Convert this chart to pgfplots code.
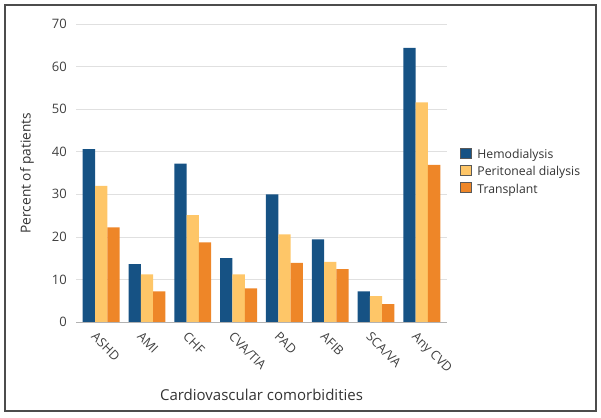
\documentclass[border=0pt]{standalone}
\usepackage{pgfplots}
\pgfplotsset{compat=1.18}
\usepackage{fontspec}
\setmainfont{Open Sans}
\definecolor{hemo}{RGB}{22,82,132}
\definecolor{perit}{RGB}{254,198,104}
\definecolor{trans}{RGB}{238,134,40}
\begin{document}
\begin{tikzpicture}[x=1pt,y=1pt]
\path[use as bounding box] (0,0) rectangle (601,417);
\draw[black!70,line width=1.4pt] (5,6) rectangle (596,412);
\begin{axis}[
  at={(76pt,95pt)}, anchor=south west,
  scale only axis, width=371pt, height=298pt,
  ybar=0pt, bar width=12.3pt,
  xmin=-0.55, xmax=7.55, ymin=0, ymax=70,
  xtick=data,
  xticklabels={ASHD,AMI,CHF,CVA/TIA,PAD,AFIB,SCA/VA,Any CVD},
  ytick={0,10,...,70},
  axis lines*=left,
  y axis line style={draw=none},
  x axis line style={black!30,line width=0.8pt},
  major tick length=0pt,
  ymajorgrids, grid style={black!12,line width=0.7pt},
  /pgf/number format/assume math mode=true,
  tick label style={font=\fontsize{13}{15}\selectfont, text=black!75},
  yticklabel style={anchor=east, inner sep=0pt, xshift=-9pt},
  xticklabel style={font=\fontsize{12.7}{14}\selectfont, anchor=north west, inner sep=0pt, xshift=-4pt, yshift=-9pt, rotate=-45},
  ylabel={Percent of patients},
  ylabel style={at={(axis description cs:-0.132,0.5)}, anchor=center, font=\fontsize{13.7}{15}\selectfont, text=black!80},
  xlabel={Cardiovascular comorbidities},
  xlabel style={at={(axis description cs:0.5,-0.245)}, anchor=center, font=\fontsize{15}{17}\selectfont, text=black!80},
  legend style={at={(axis description cs:1.035,0.503)}, anchor=west, draw=none, fill=none,
    font=\fontsize{12.2}{14}\selectfont, text=black!80, row sep=2.3pt, inner sep=0pt},
  legend cell align=left,
  legend image code/.code={\draw[#1,draw=black!65,line width=0.6pt] (0pt,-3.5pt) rectangle (10.5pt,7pt);\path (15pt,0pt);},
]
\addplot[fill=hemo, draw=none] coordinates {(0,40.6) (1,13.6) (2,37.2) (3,15.0) (4,30.0) (5,19.4) (6,7.2) (7,64.4)};
\addplot[fill=perit, draw=none] coordinates {(0,32.0) (1,11.2) (2,25.1) (3,11.2) (4,20.6) (5,14.1) (6,6.1) (7,51.6)};
\addplot[fill=trans, draw=none] coordinates {(0,22.2) (1,7.2) (2,18.7) (3,7.9) (4,13.9) (5,12.4) (6,4.2) (7,36.9)};
\legend{Hemodialysis,Peritoneal dialysis,Transplant}
\end{axis}
\end{tikzpicture}
\end{document}
